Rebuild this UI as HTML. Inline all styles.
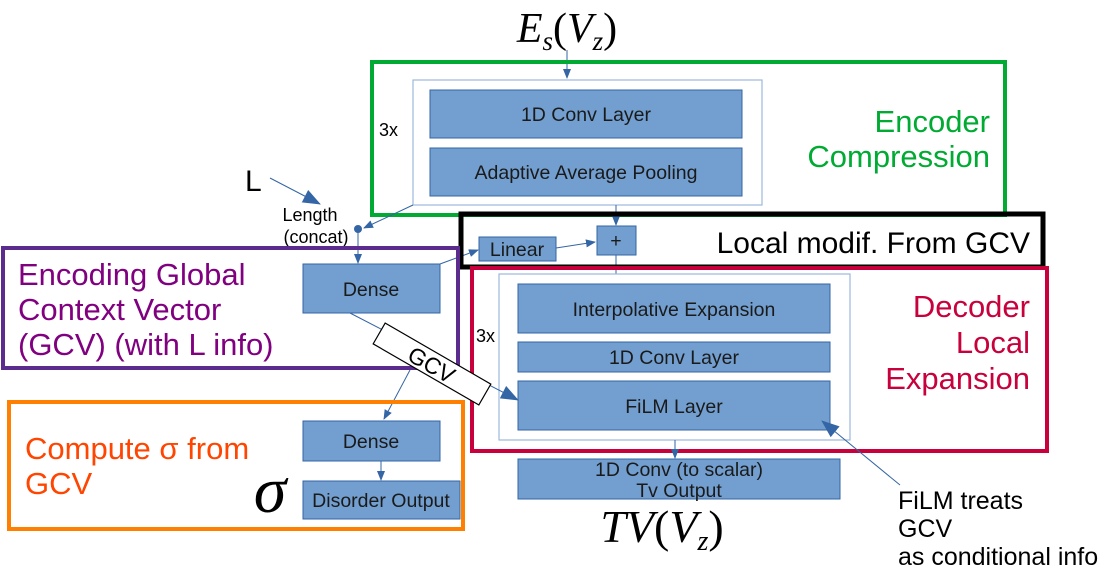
<!DOCTYPE html>
<html><head><meta charset="utf-8"><style>
html,body{margin:0;padding:0;background:#fff;}
svg{display:block;font-family:"Liberation Sans",sans-serif;}
.b{fill:#729fcf;stroke:#3465a4;stroke-width:1;}
.t{font-size:19.5px;fill:#1a1a1a;text-anchor:middle;}
.ln{stroke:#3465a4;stroke-width:1;fill:none;}
</style></head><body>
<svg width="1107" height="579" viewBox="0 0 1107 579">
<defs><marker id="a" markerWidth="10" markerHeight="8" refX="9" refY="4" orient="auto" markerUnits="userSpaceOnUse"><path d="M0,0 L10,4 L0,8z" fill="#3465a4"/></marker>
<marker id="A" markerWidth="18" markerHeight="14" refX="17" refY="7" orient="auto" markerUnits="userSpaceOnUse"><path d="M0,0 L18,7 L0,14z" fill="#3465a4"/></marker></defs>

<text x="567" y="42" font-family="Liberation Serif,serif" font-style="italic" font-size="42" text-anchor="middle">E<tspan font-size="27" dy="8">s</tspan><tspan dy="-8" font-style="normal">(</tspan>V<tspan font-size="27" dy="8">z</tspan><tspan dy="-8" font-style="normal">)</tspan></text>
<line class="ln" x1="567" y1="50" x2="567" y2="78" marker-end="url(#a)"/>

<rect x="413" y="80" width="349" height="125" fill="none" stroke="#9db8dc" stroke-width="1.2"/>
<text x="379" y="136" font-size="18">3x</text>
<rect class="b" x="430" y="90" width="312" height="48"/>
<text class="t" x="586" y="121">1D Conv Layer</text>
<rect class="b" x="430" y="148" width="312" height="48"/>
<text class="t" x="586" y="179">Adaptive Average Pooling</text>
<rect x="372" y="62" width="633" height="153" fill="none" stroke="#00aa33" stroke-width="4"/>
<text x="990" y="132" font-size="31" fill="#00aa33" text-anchor="end">Encoder</text>
<text x="990" y="167" font-size="31" fill="#00aa33" text-anchor="end">Compression</text>

<text x="245" y="191" font-size="30">L</text>
<line class="ln" x1="270" y1="178" x2="320" y2="204" marker-end="url(#A)"/>
<text x="310" y="221" font-size="18" text-anchor="middle">Length</text>
<text x="316" y="243" font-size="18" text-anchor="middle">(concat)</text>
<line class="ln" x1="413" y1="205" x2="364" y2="228" marker-end="url(#a)"/>
<circle cx="358" cy="229" r="4" fill="#3465a4"/>
<line class="ln" x1="358" y1="229" x2="358" y2="263" marker-end="url(#a)"/>

<line class="ln" x1="616" y1="205" x2="616" y2="225" marker-end="url(#a)"/>
<line class="ln" x1="440" y1="264" x2="478" y2="250" marker-end="url(#a)"/>
<rect class="b" x="479" y="237" width="77" height="24"/>
<text class="t" x="517" y="256">Linear</text>
<line class="ln" x1="556" y1="248" x2="595" y2="242" marker-end="url(#a)"/>
<rect class="b" x="597" y="226" width="39" height="29"/>
<text class="t" x="616" y="247">+</text>
<line class="ln" x1="616" y1="255" x2="616" y2="274"/>
<rect x="461" y="214" width="582" height="53" fill="none" stroke="#000" stroke-width="5"/>
<text x="1030" y="253" font-size="30" text-anchor="end">Local modif. From GCV</text>

<rect x="499" y="274" width="351" height="166" fill="none" stroke="#9db8dc" stroke-width="1.2"/>
<text x="476" y="342" font-size="18">3x</text>
<rect class="b" x="518" y="284" width="312" height="49"/>
<text class="t" x="674" y="316">Interpolative Expansion</text>
<rect class="b" x="518" y="342" width="312" height="30"/>
<text class="t" x="674" y="364">1D Conv Layer</text>
<rect class="b" x="518" y="381" width="312" height="49"/>
<text class="t" x="674" y="413">FiLM Layer</text>
<rect x="472" y="268" width="575" height="183" fill="none" stroke="#c8003c" stroke-width="4"/>
<text x="1030" y="317" font-size="31" fill="#c8003c" text-anchor="end">Decoder</text>
<text x="1030" y="353" font-size="31" fill="#c8003c" text-anchor="end">Local</text>
<text x="1030" y="389" font-size="31" fill="#c8003c" text-anchor="end">Expansion</text>
<line class="ln" x1="675" y1="440" x2="675" y2="458" marker-end="url(#a)"/>
<rect class="b" x="518" y="459" width="322" height="40"/>
<text class="t" x="679" y="476">1D Conv (to scalar)</text>
<text class="t" x="679" y="497">Tv Output</text>
<text x="662" y="542" font-family="Liberation Serif,serif" font-style="italic" font-size="46" text-anchor="middle">TV<tspan font-style="normal">(</tspan>V<tspan font-size="28" dy="8">z</tspan><tspan dy="-8" font-style="normal">)</tspan></text>

<line class="ln" x1="900" y1="485" x2="822" y2="421" marker-end="url(#A)"/>
<text x="898" y="509" font-size="25">FiLM treats</text>
<text x="898" y="537" font-size="25">GCV</text>
<text x="898" y="565" font-size="25">as conditional info</text>

<rect class="b" x="303" y="264" width="137" height="49"/>
<text class="t" x="371" y="296">Dense</text>
<rect x="3" y="248" width="455" height="120" fill="none" stroke="#5b2c8e" stroke-width="4"/>
<text x="18" y="285" font-size="31" fill="#800080">Encoding Global</text>
<text x="18" y="320" font-size="31" fill="#800080">Context Vector</text>
<text x="18" y="355" font-size="31" fill="#800080">(GCV) (with L info)</text>
<line class="ln" x1="350" y1="313" x2="518" y2="400" marker-end="url(#A)"/>
<line class="ln" x1="410" y1="370" x2="384" y2="419" marker-end="url(#a)"/>
<g transform="translate(432,364) rotate(30)">
<rect x="-61" y="-12" width="122" height="24" fill="#fff" stroke="#000" stroke-width="1.2"/>
<text x="0" y="9" font-size="23" text-anchor="middle">GCV</text></g>

<rect class="b" x="303" y="421" width="137" height="40"/>
<text class="t" x="371" y="448">Dense</text>
<line class="ln" x1="381" y1="461" x2="381" y2="480" marker-end="url(#a)"/>
<rect class="b" x="303" y="481" width="157" height="38"/>
<text class="t" x="381" y="507">Disorder Output</text>
<rect x="9" y="402" width="454" height="127" fill="none" stroke="#ff7f00" stroke-width="4"/>
<text x="25" y="459" font-size="31" fill="#ff4500">Compute σ from</text>
<text x="25" y="494" font-size="31" fill="#ff4500">GCV</text>
<text x="270" y="512" font-family="Liberation Serif,serif" font-style="italic" font-size="66" text-anchor="middle">σ</text>
</svg>
</body></html>
